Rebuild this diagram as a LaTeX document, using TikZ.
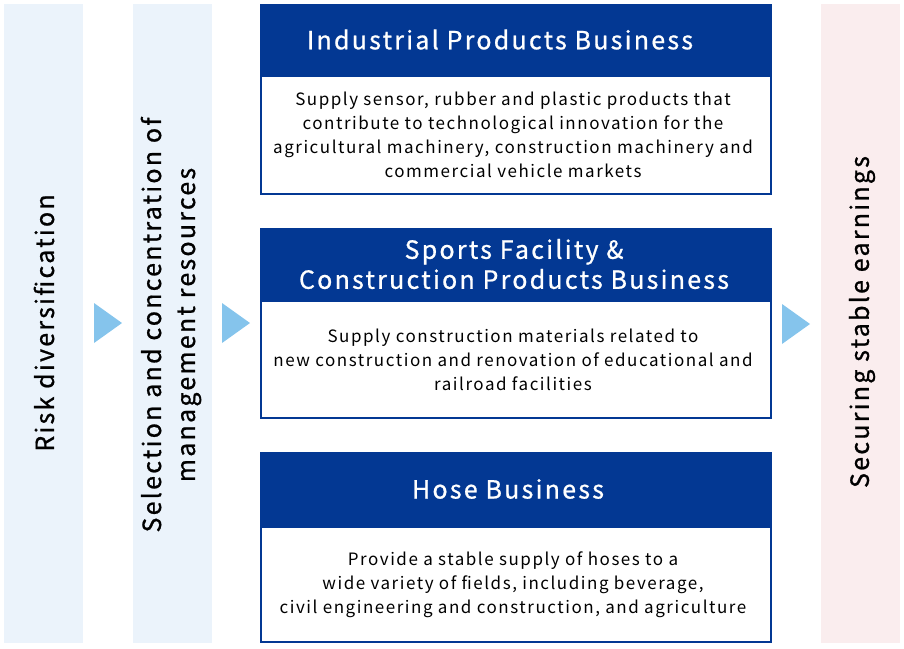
\documentclass[tikz,border=0pt]{standalone}
\usepackage{fontspec}
\setmainfont{Noto Sans CJK JP}[LetterSpace=9]
\newfontfamily\headfont{Noto Sans CJK JP}[LetterSpace=9,FakeBold=0.8]
\newfontfamily\sidefont{Noto Sans CJK JP}[LetterSpace=9,FakeBold=0.8]
\definecolor{navy}{HTML}{033893}
\definecolor{colbg}{HTML}{EBF3FB}
\definecolor{pinkbg}{HTML}{FAEDEE}
\definecolor{arrowc}{HTML}{85C4EC}
\tikzset{
  colbox/.style={fill=colbg, draw=none, minimum width=79pt, minimum height=639pt, inner sep=0pt},
  pinkbox/.style={colbox, fill=pinkbg},
  vlabel/.style={rotate=90, align=center, inner sep=0pt, font=\sidefont\fontsize{25}{34}\selectfont, text=black},
  headbox/.style={fill=navy, draw=none, minimum width=512pt, inner sep=0pt},
  headtext/.style={align=center, inner sep=0pt, text=white, font=\headfont\fontsize{25}{30}\selectfont},
  bodybox/.style={fill=white, draw=navy, line width=2pt, minimum width=510pt, inner sep=0pt},
  bodytext/.style={align=center, inner sep=0pt, text=black, font=\fontsize{17}{24}\selectfont},
  tri/.style={fill=arrowc, draw=none}
}
\begin{document}
\begin{tikzpicture}[x=1pt,y=-1pt]
\useasboundingbox (0,0) rectangle (904,648);
% columns
\node[colbox] (c1) at (43.5,323.5) {};
\node[colbox] (c2) at (172,323.5) {};
\node[pinkbox] (c3) at (860,323.5) {};
\node[vlabel] (l1) at (44,323) {Risk diversification};
\node[vlabel] (l2) at (171,325) {Selection and concentration of\\management resources};
\node[vlabel] (l3) at (862,322) {Securing stable earnings};
% arrows
\fill[tri] (94,303) -- (122,323) -- (94,343) -- cycle;
\fill[tri] (222,303) -- (250,323) -- (222,343) -- cycle;
\fill[tri] (782,304) -- (810,324) -- (782,344) -- cycle;
% box 1
\node[headbox, minimum height=71pt] (h1) at (516,39.5) {};
\node[headtext] (h1t) at ([xshift=-16pt]h1.center) {Industrial Products Business};
\node[bodybox, minimum height=118pt] (b1) at (516,135) {};
\node[bodytext] (b1t) at ([xshift=-3pt]b1.center) {Supply sensor, rubber and plastic products that\\contribute to technological innovation for the\\agricultural machinery, construction machinery and\\commercial vehicle markets};
% box 2
\node[headbox, minimum height=72pt] (h2) at (516,264) {};
\node[headtext] (h2t) at ([xshift=-2pt]h2.center) {Sports Facility \&\\Construction Products Business};
\node[bodybox, minimum height=117pt] (b2) at (516,359.5) {};
\node[bodytext] (b2t) at ([xshift=-3pt]b2.center) {Supply construction materials related to\\new construction and renovation of educational and\\railroad facilities};
% box 3
\node[headbox, minimum height=74pt] (h3) at (516,489) {};
\node[headtext] (h3t) at ([xshift=-8pt]h3.center) {Hose Business};
\node[bodybox, minimum height=115pt] (b3) at (516,584.5) {};
\node[bodytext] (b3t) at ([xshift=-3pt]b3.center) {Provide a stable supply of hoses to a\\wide variety of fields, including beverage,\\civil engineering and construction, and agriculture};
\end{tikzpicture}
\end{document}
